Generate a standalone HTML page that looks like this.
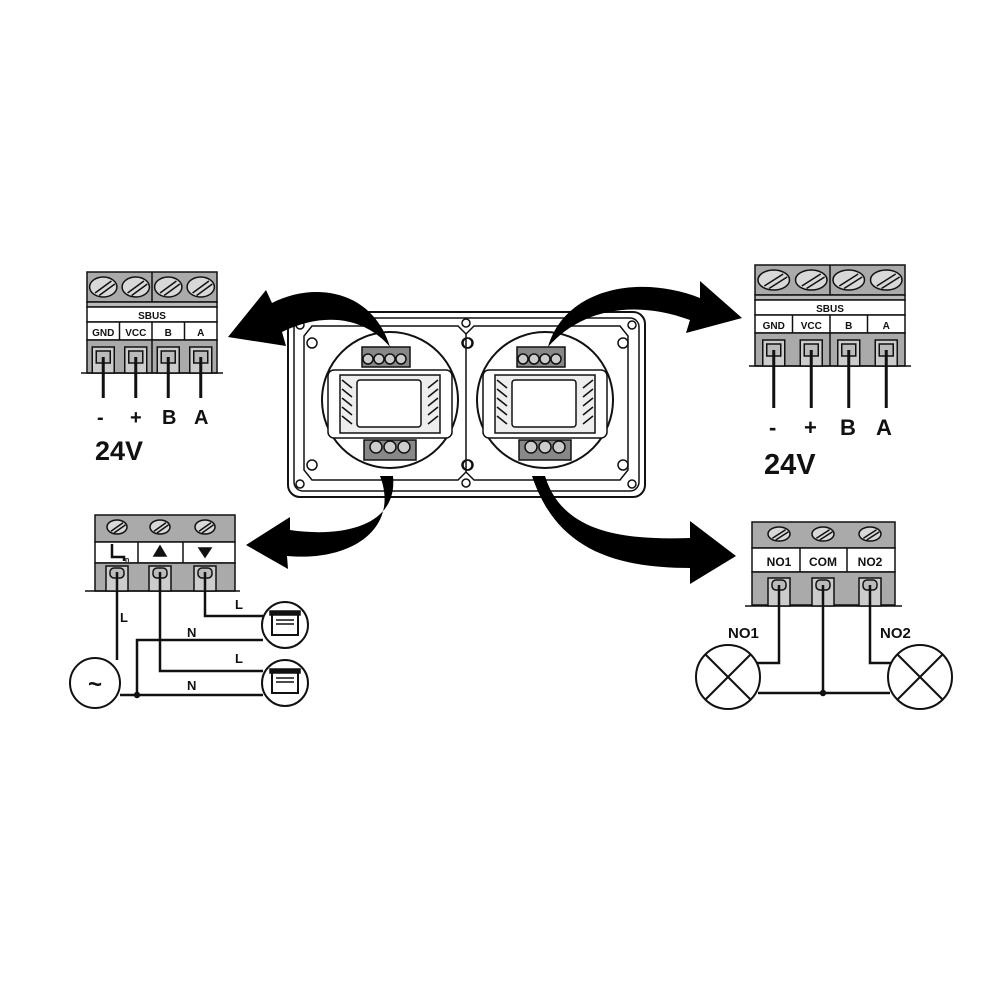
<!DOCTYPE html>
<html><head><meta charset="utf-8"><style>
html,body{margin:0;padding:0;background:#fff;width:1000px;height:1000px;overflow:hidden}
svg{display:block}
text{font-family:"Liberation Sans",Arial,sans-serif;font-weight:bold;fill:#111}
</style></head><body>
<svg id="s" width="1000" height="1000" viewBox="0 0 1000 1000" xmlns="http://www.w3.org/2000/svg">
<g id="g" stroke="#111" fill="none" stroke-width="1.5"></g>
</svg>
<script>
var g=document.getElementById('g');var h='';
function screw(cx,cy,rx,ry){h+='<ellipse cx="'+cx+'" cy="'+cy+'" rx="'+rx+'" ry="'+ry+'" fill="#d8d8d8"/><line x1="'+(cx-rx*0.6)+'" y1="'+(cy+ry*0.6)+'" x2="'+(cx+rx*0.6)+'" y2="'+(cy-ry*0.6)+'"/><line x1="'+(cx-rx*0.3)+'" y1="'+(cy+ry*0.85)+'" x2="'+(cx+rx*0.85)+'" y2="'+(cy-ry*0.3)+'"/>';}
function sbus(x,y,w,wireEnd){
 var cw=w/4;
 h+='<rect x="'+x+'" y="'+y+'" width="'+w+'" height="30" fill="#aaa"/>';
 h+='<rect x="'+x+'" y="'+(y+30)+'" width="'+w+'" height="5" fill="#bbb"/>';
 h+='<rect x="'+x+'" y="'+(y+35)+'" width="'+w+'" height="15" fill="#fff"/>';
 h+='<rect x="'+x+'" y="'+(y+50)+'" width="'+w+'" height="18" fill="#fff"/>';
 h+='<rect x="'+x+'" y="'+(y+68)+'" width="'+w+'" height="33" fill="#aaa"/>';
 h+='<line x1="'+(x+w/2)+'" y1="'+y+'" x2="'+(x+w/2)+'" y2="'+(y+30)+'"/>';
 h+='<line x1="'+(x+w/2)+'" y1="'+(y+68)+'" x2="'+(x+w/2)+'" y2="'+(y+101)+'"/>';
 h+='<line x1="'+(x-6)+'" y1="'+(y+101)+'" x2="'+(x+w+6)+'" y2="'+(y+101)+'"/>';
 h+='<text x="'+(x+w/2)+'" y="'+(y+47)+'" font-size="10" text-anchor="middle" stroke="none">SBUS</text>';
 var labs=['GND','VCC','B','A'];
 for(var i=0;i<4;i++){var cx=x+cw*i+cw/2;
  screw(cx,y+15,cw*0.42,10);
  if(i>0)h+='<line x1="'+(x+cw*i)+'" y1="'+(y+50)+'" x2="'+(x+cw*i)+'" y2="'+(y+68)+'"/>';
  h+='<text x="'+cx+'" y="'+(y+64)+'" font-size="10" text-anchor="middle" stroke="none">'+labs[i]+'</text>';
  h+='<rect x="'+(cx-11)+'" y="'+(y+75)+'" width="22" height="26" fill="#ccc"/><rect x="'+(cx-7)+'" y="'+(y+79)+'" width="14" height="12" fill="#bbb"/>';
  h+='<line x1="'+cx+'" y1="'+(y+85)+'" x2="'+cx+'" y2="'+wireEnd+'" stroke-width="3"/>';
 }
}
sbus(87,272,130,398);
sbus(755,265,150,408);
// device
h+='<rect x="288" y="312" width="357" height="185" rx="12" fill="#fff" stroke-width="2"/>';
h+='<rect x="294" y="318" width="345" height="173" rx="9"/>';
h+='<path d="M312,326 L458,326 L466,334 L474,326 L620,326 L628,336 L628,470 L620,480 L474,480 L466,472 L458,480 L312,480 L304,470 L304,336 Z" fill="#fff"/>';
h+='<line x1="466" y1="334" x2="466" y2="472"/>';
[390,545].forEach(function(c){
 h+='<circle cx="'+c+'" cy="400" r="68" fill="#fff" stroke-width="2"/>';
 h+='<rect x="'+(c-62)+'" y="370" width="124" height="68" rx="6" fill="#fff"/>';
 h+='<rect x="'+(c-50)+'" y="375" width="100" height="58" fill="#eee"/>';
 h+='<rect x="'+(c-33)+'" y="380" width="64" height="47" rx="3" fill="#fff"/>';
 for(var k=0;k<5;k++){h+='<line x1="'+(c-48)+'" y1="'+(380+k*9)+'" x2="'+(c-38)+'" y2="'+(388+k*9)+'"/><line x1="'+(c+38)+'" y1="'+(388+k*9)+'" x2="'+(c+48)+'" y2="'+(380+k*9)+'"/>';}
 h+='<rect x="'+(c-28)+'" y="347" width="48" height="20" fill="#888"/>';
 for(var k=0;k<4;k++)h+='<circle cx="'+(c-22+k*11)+'" cy="359" r="5" fill="#ccc"/>';
 h+='<rect x="'+(c-26)+'" y="440" width="52" height="20" fill="#888"/>';
 for(var k=0;k<3;k++)h+='<circle cx="'+(c-14+k*14)+'" cy="447" r="6" fill="#ccc"/>';
 h+='<circle cx="'+(c-78)+'" cy="343" r="5"/><circle cx="'+(c+78)+'" cy="343" r="5"/><circle cx="'+(c-78)+'" cy="465" r="5"/><circle cx="'+(c+78)+'" cy="465" r="5"/>';
});
[300,632].forEach(function(x){h+='<circle cx="'+x+'" cy="325" r="4"/><circle cx="'+x+'" cy="484" r="4"/>';});
h+='<circle cx="466" cy="323" r="4"/><circle cx="466" cy="483" r="4"/>';
// arrows (over device)
h+='<g fill="#000" stroke="none">';
h+='<path d="M390,347 C372,288 312,282 272,303 L266,290 L228,337 L286,346 L282,332 C322,312 364,316 390,347 Z"/>';
h+='<path d="M548,347 C565,288 640,274 700,298 L700,281 L742,318 L686,333 L690,320 C630,298 578,312 548,347 Z"/>';
h+='<path d="M393,476 C398,525 345,538 290,530 L290,517 L246,545 L288,569 L287,556 C352,562 400,528 380,476 Z"/>';
h+='<path d="M545,476 C563,535 628,540 690,538 L690,521 L736,556 L690,584 L690,568 C608,568 555,545 532,476 Z"/>';
h+='</g>';
// bottom-left block
var bx=95,by=515,bw=140;
h+='<rect x="'+bx+'" y="'+by+'" width="'+bw+'" height="27" fill="#aaa"/><rect x="'+bx+'" y="'+(by+27)+'" width="'+bw+'" height="21" fill="#fff"/><rect x="'+bx+'" y="'+(by+48)+'" width="'+bw+'" height="28" fill="#aaa"/>';
h+='<line x1="85" y1="591" x2="240" y2="591"/>';
var bc=[117,160,205];
bc.forEach(function(cx,i){screw(cx,527,10,7);if(i>0)h+='<line x1="'+(cx-22)+'" y1="542" x2="'+(cx-22)+'" y2="563"/>';
 h+='<rect x="'+(cx-11)+'" y="566" width="22" height="25" fill="#ccc"/><rect x="'+(cx-7)+'" y="568" width="14" height="10" rx="4" fill="#bbb"/>';});
h+='<path d="M112,544 L112,557 L124,557 L124,561" stroke-width="2.5"/><text x="125" y="562" font-size="7" stroke="none">n</text>';
h+='<path d="M160,546 L166,556 L154,556 Z" fill="#111"/><path d="M199,548 L211,548 L205,557 Z" fill="#111"/>';
h+='<g stroke-width="2.5"><path d="M117,572 L117,660"/><path d="M205,572 L205,616 L263,616"/><path d="M137,697 L137,640 L263,640"/><path d="M160,572 L160,671 L263,671"/><path d="M120,695 L263,695"/></g>';
h+='<circle cx="137" cy="695" r="2.5" fill="#111"/>';
h+='<circle cx="95" cy="683" r="25" stroke-width="2" fill="#fff"/><text x="95" y="692" font-size="24" font-weight="normal" text-anchor="middle" stroke="none">~</text>';
[625,683].forEach(function(cy,i){h+='<circle cx="285" cy="'+cy+'" r="23" stroke-width="2" fill="#fff"/><rect x="272" y="'+(cy-12)+'" width="26" height="22" stroke-width="2"/><rect x="270" y="'+(cy-14)+'" width="30" height="4" fill="#111"/><line x1="276" y1="'+(cy-5)+'" x2="294" y2="'+(cy-5)+'"/><line x1="276" y1="'+(cy-1)+'" x2="294" y2="'+(cy-1)+'"/>';});
h+='<text x="120" y="622" font-size="13" font-weight="normal" stroke="none">L</text><text x="235" y="609" font-size="13" font-weight="normal" stroke="none">L</text><text x="187" y="637" font-size="13" font-weight="normal" stroke="none">N</text><text x="235" y="663" font-size="13" font-weight="normal" stroke="none">L</text><text x="187" y="690" font-size="13" font-weight="normal" stroke="none">N</text>';
// bottom-right block
bx=752;by=522;bw=143;
h+='<rect x="'+bx+'" y="'+by+'" width="'+bw+'" height="26" fill="#aaa"/><rect x="'+bx+'" y="'+(by+26)+'" width="'+bw+'" height="24" fill="#fff"/><rect x="'+bx+'" y="'+(by+50)+'" width="'+bw+'" height="33" fill="#aaa"/>';
h+='<line x1="745" y1="606" x2="902" y2="606"/>';
var rc=[779,823,870],rl=['NO1','COM','NO2'];
rc.forEach(function(cx,i){screw(cx,534,11,7);if(i>0)h+='<line x1="'+(cx-23)+'" y1="548" x2="'+(cx-23)+'" y2="572"/>';
 h+='<text x="'+cx+'" y="566" font-size="12" text-anchor="middle" stroke="none">'+rl[i]+'</text>';
 h+='<rect x="'+(cx-11)+'" y="578" width="22" height="28" fill="#ccc"/><rect x="'+(cx-7)+'" y="580" width="14" height="10" rx="4" fill="#bbb"/>';});
h+='<g stroke-width="2.5"><path d="M779,585 L779,663 L752,663"/><path d="M870,585 L870,663 L896,663"/><path d="M823,585 L823,693"/><path d="M758,693 L890,693"/></g>';
h+='<circle cx="823" cy="693" r="2.5" fill="#111"/>';
[728,920].forEach(function(cx){h+='<circle cx="'+cx+'" cy="677" r="32" stroke-width="2" fill="#fff"/><line x1="'+(cx-22)+'" y1="655" x2="'+(cx+22)+'" y2="699" stroke-width="2"/><line x1="'+(cx+22)+'" y1="655" x2="'+(cx-22)+'" y2="699" stroke-width="2"/>';});
h+='<text x="728" y="638" font-size="15" stroke="none">NO1</text><text x="880" y="638" font-size="15" stroke="none">NO2</text>';
h+='<text x="97" y="424" font-size="20" stroke="none">-</text><text x="130" y="424" font-size="20" stroke="none">+</text><text x="162" y="424" font-size="20" stroke="none">B</text><text x="194" y="424" font-size="20" stroke="none">A</text>';
h+='<text x="95" y="460" font-size="27" stroke="none">24V</text>';
h+='<text x="769" y="435" font-size="22" stroke="none">-</text><text x="804" y="435" font-size="22" stroke="none">+</text><text x="840" y="435" font-size="22" stroke="none">B</text><text x="876" y="435" font-size="22" stroke="none">A</text>';
h+='<text x="764" y="474" font-size="29" stroke="none">24V</text>';
g.innerHTML=h;
</script>
</body></html>
